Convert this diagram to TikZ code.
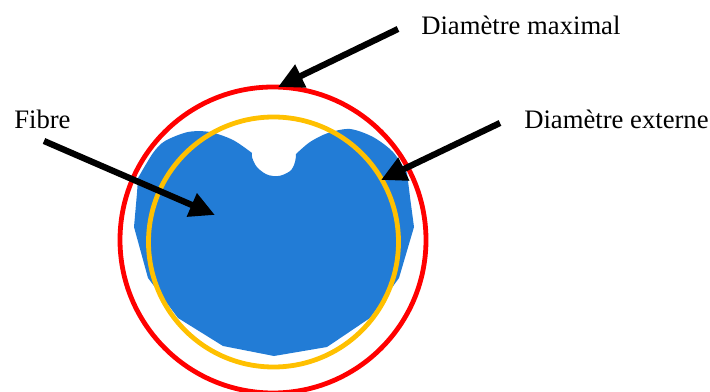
\documentclass[tikz,border=0pt]{standalone}
\usepackage{fontspec}
\setmainfont{Liberation Serif}
\usepackage{xcolor}
\usetikzlibrary{arrows.meta}
\definecolor{fibreblue}{HTML}{227CD6}
\definecolor{ringred}{HTML}{FF0000}
\definecolor{ringyellow}{HTML}{FFC000}

\begin{document}
\begin{tikzpicture}[
  x=0.75pt,y=-0.75pt,
  lbl/.style={anchor=west,inner sep=0pt,font=\fontsize{20pt}{22pt}\selectfont},
  ring/.style={line width=3.6pt},
  arr/.style={-{Triangle[length=19pt,width=18pt]},line width=4.7pt,black}
]
\useasboundingbox (0,0) rectangle (710,392);
% fibre section
\fill[fibreblue] plot[smooth,tension=0.5] coordinates {(138,178) (153,153) (165,141) (188,132) (210,132) (233,140) (252,153)}
  -- plot[smooth,tension=0.8] coordinates {(252,153) (253,160) (260,170) (273,176) (287,173) (294,165) (296,154)}
  -- plot[smooth,tension=0.5] coordinates {(296,154) (310,142) (328,133) (350,129) (373,137) (393,152) (407,173)}
  -- (410,197) -- (414,227) -- (399,278) -- (370,318) -- (327,347) -- (274,356) -- (223,346) -- (178,318)
  -- (148,278) -- (134,227) -- (137,193) -- cycle;
\draw[ring,ringred] (273,240) circle[radius=153];
\draw[ring,ringyellow] (273.5,242) circle[radius=125];

\node[lbl] (maximal) at (421,25.5) {Diamètre maximal};
\node[lbl] (externe) at (524,119.5) {Diamètre externe};
\node[lbl] (fibre) at (14,119.5) {Fibre};

\coordinate (maximalA) at (398,29);
\coordinate (maximalB) at (278,87);
\coordinate (externeA) at (500,123);
\coordinate (externeB) at (381,180);
\coordinate (fibreA) at (44,141);
\coordinate (fibreB) at (215,215);
\draw[arr] (maximalA) -- (maximalB);
\draw[arr] (externeA) -- (externeB);
\draw[arr] (fibreA) -- (fibreB);
\end{tikzpicture}
\end{document}
